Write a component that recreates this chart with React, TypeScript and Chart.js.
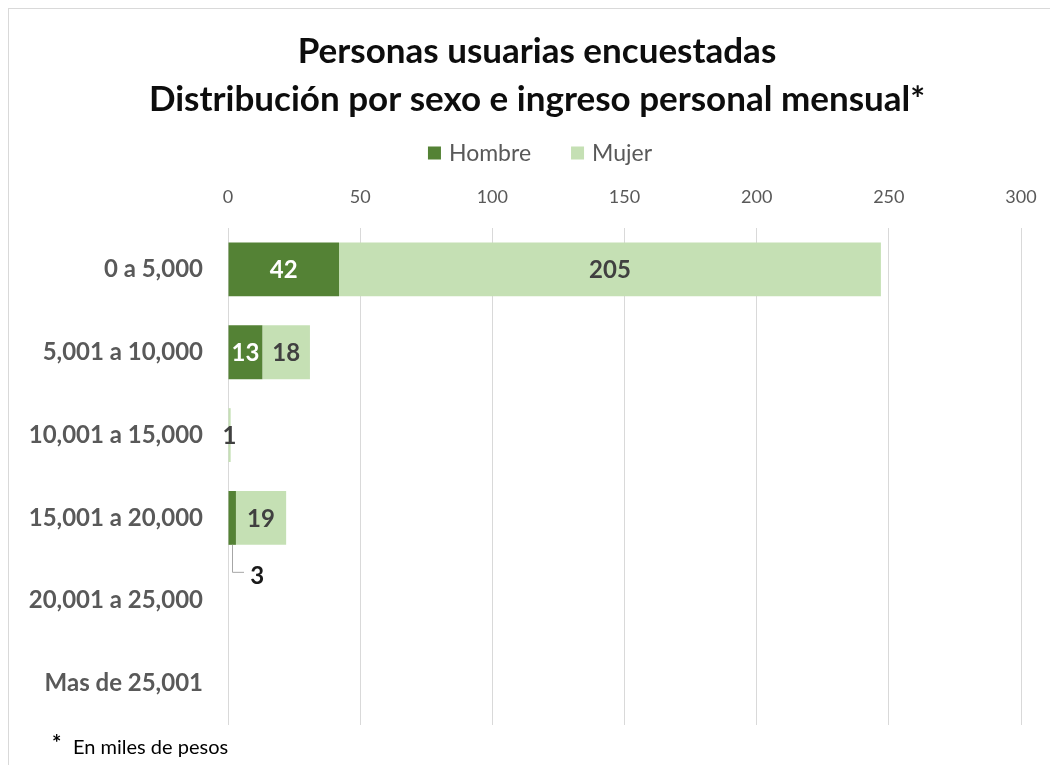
import React, { useEffect, useRef } from "react";
import { Chart, registerables } from "chart.js";

Chart.register(...registerables);

const categories = [
  "0 a 5,000",
  "5,001 a 10,000",
  "10,001 a 15,000",
  "15,001 a 20,000",
  "20,001 a 25,000",
  "Mas de 25,001",
];
const hombre = [42, 13, 0, 3, 0, 0];
const mujer = [205, 18, 1, 19, 0, 0];
const titleLines = [
  "Personas usuarias encuestadas",
  "Distribución por sexo e ingreso personal mensual*",
];
const footnote = "En miles de pesos";

const FONT = "Lato, 'Open Sans', sans-serif";
const C_HOMBRE = "#548235";
const C_MUJER = "#C5E0B4";

const framePlugin = {
  id: "frame",
  beforeDraw(chart: any) {
    const ctx = chart.ctx;
    ctx.save();
    ctx.fillStyle = "#ffffff";
    ctx.fillRect(0, 0, chart.width, chart.height);
    ctx.strokeStyle = "#d9d9d9";
    ctx.lineWidth = 1;
    ctx.strokeRect(8.5, 8.5, chart.width + 50, chart.height + 50);
    ctx.restore();
  },
};

const titlePlugin = {
  id: "customTitle",
  afterDraw(chart: any) {
    const ctx = chart.ctx;
    ctx.save();
    ctx.font = `bold 35px ${FONT}`;
    ctx.fillStyle = "#0d0d0d";
    ctx.textAlign = "center";
    ctx.textBaseline = "middle";
    titleLines.forEach((t, i) => ctx.fillText(t, 537, 52 + i * 48));
    ctx.restore();
  },
};

const legendPlugin = {
  id: "customLegend",
  afterDraw(chart: any) {
    const ctx = chart.ctx;
    ctx.save();
    ctx.font = `23px ${FONT}`;
    ctx.textBaseline = "middle";
    const box = 13;
    const gapBoxText = 8;
    const gapItems = 40;
    const items = chart.data.datasets.map((d: any) => ({
      text: d.label,
      color: d.backgroundColor,
      w: box + gapBoxText + ctx.measureText(d.label).width,
    }));
    const total =
      items.reduce((s: number, it: any) => s + it.w, 0) + gapItems * (items.length - 1);
    let x = 540 - total / 2;
    const y = 153;
    items.forEach((it: any) => {
      ctx.fillStyle = it.color;
      ctx.fillRect(x, y - box / 2, box, box);
      ctx.fillStyle = "#595959";
      ctx.textAlign = "left";
      ctx.fillText(it.text, x + box + gapBoxText, y + 1);
      x += it.w + gapItems;
    });
    ctx.restore();
  },
};

const labelsPlugin = {
  id: "barLabels",
  afterDatasetsDraw(chart: any) {
    const ctx = chart.ctx;
    ctx.save();
    ctx.font = `bold 24px ${FONT}`;
    ctx.textBaseline = "middle";
    chart.data.datasets.forEach((ds: any, di: number) => {
      const meta = chart.getDatasetMeta(di);
      meta.data.forEach((bar: any, i: number) => {
        const v = ds.data[i];
        if (!v) return;
        const p = bar.getProps(["x", "y", "base", "height"], true);
        const w = Math.abs(p.x - p.base);
        const label = String(v);
        const tw = ctx.measureText(label).width;
        const cx = (p.x + p.base) / 2;
        if (di === 0 && w < tw) {
          const by = p.y + p.height / 2;
          ctx.strokeStyle = "#a6a6a6";
          ctx.lineWidth = 1;
          ctx.beginPath();
          ctx.moveTo(Math.round(cx) + 0.5, by);
          ctx.lineTo(Math.round(cx) + 0.5, by + 27.5);
          ctx.lineTo(Math.round(cx) + 12, by + 27.5);
          ctx.stroke();
          ctx.fillStyle = "#1a1a1a";
          ctx.textAlign = "left";
          ctx.fillText(label, cx + 18, by + 31);
        } else {
          ctx.fillStyle = di === 0 ? "#ffffff" : "#404040";
          ctx.textAlign = "center";
          ctx.fillText(label, cx, p.y + 1);
        }
      });
    });
    ctx.restore();
  },
};

const footnotePlugin = {
  id: "footnote",
  afterDraw(chart: any) {
    const ctx = chart.ctx;
    ctx.save();
    ctx.fillStyle = "#000000";
    ctx.textBaseline = "middle";
    ctx.textAlign = "left";
    ctx.font = `bold 22px ${FONT}`;
    ctx.fillText("*", 52, 744);
    ctx.font = `20px ${FONT}`;
    ctx.fillText(footnote, 73, 748);
    ctx.restore();
  },
};

export default function App() {
  const ref = useRef<HTMLCanvasElement | null>(null);
  useEffect(() => {
    if (!ref.current) return;
    const chart = new Chart(ref.current, {
      type: "bar",
      data: {
        labels: categories,
        datasets: [
          {
            label: "Hombre",
            data: hombre,
            backgroundColor: C_HOMBRE,
            barPercentage: 0.65,
            categoryPercentage: 1,
          },
          {
            label: "Mujer",
            data: mujer,
            backgroundColor: C_MUJER,
            barPercentage: 0.65,
            categoryPercentage: 1,
          },
        ],
      },
      options: {
        indexAxis: "y",
        responsive: false,
        animation: false,
        layout: { padding: { left: 8, right: 29, top: 186, bottom: 40 } },
        plugins: {
          legend: { display: false },
          tooltip: { enabled: false },
          title: { display: false },
        },
        scales: {
          x: {
            type: "linear",
            position: "top",
            stacked: true,
            min: 0,
            max: 300,
            ticks: {
              stepSize: 50,
              color: "#595959",
              font: { family: FONT, size: 18 },
              padding: 12,
            },
            grid: {
              color: "#d9d9d9",
              drawTicks: true,
              tickLength: 8,
              tickColor: "rgba(0,0,0,0)",
            },
            border: { display: false },
            afterFit: (s: any) => {
              s.height = 42;
            },
          },
          y: {
            stacked: true,
            ticks: {
              color: "#595959",
              font: { family: FONT, size: 24, weight: "bold" },
              padding: 25,
            },
            grid: { display: false, drawTicks: false },
            border: { display: false },
            afterFit: (s: any) => {
              s.width = 220;
            },
          },
        },
      },
      plugins: [framePlugin, titlePlugin, legendPlugin, labelsPlugin, footnotePlugin],
    } as any);
    return () => chart.destroy();
  }, []);
  return (
    <div style={{ position: "fixed", left: 0, top: 0, width: 1050, height: 765, overflow: "hidden" }}>
      <canvas ref={ref} width={1050} height={765} style={{ display: "block" }} />
    </div>
  );
}
